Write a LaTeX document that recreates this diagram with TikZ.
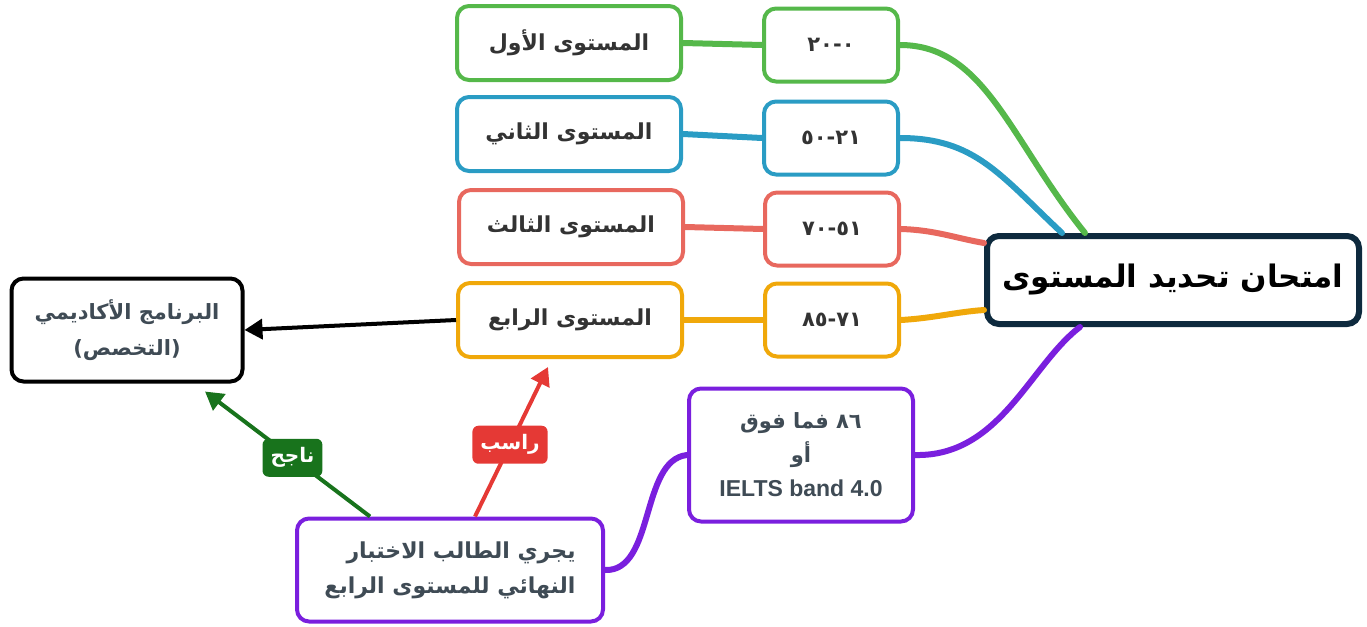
\documentclass[tikz,border=0pt]{standalone}
\usepackage{fontspec}
\usetikzlibrary{arrows.meta,calc}
\TeXXeTstate=1
\newfontfamily\arabicfont[Script=Arabic]{DejaVu Sans}
\newfontfamily\latinfont{Liberation Sans}
\newcommand\AR[1]{\beginR #1\endR}
\definecolor{cgreen}{HTML}{55B84A}
\definecolor{cblue}{HTML}{2A9CC4}
\definecolor{csalmon}{HTML}{E8685E}
\definecolor{corange}{HTML}{F0A80A}
\definecolor{cpurple}{HTML}{7A1FDE}
\definecolor{cnavy}{HTML}{0E2A3E}
\definecolor{cdkgreen}{HTML}{18731C}
\definecolor{cred}{HTML}{E53935}
\definecolor{ctext}{HTML}{333333}
\definecolor{ctextb}{HTML}{3F4B55}
\tikzset{
  box/.style={draw, line width=2pt, rounded corners=6pt, fill=white, align=center, text=ctext, font=\arabicfont\bfseries},
  lbox/.style={box, minimum width=112pt, minimum height=37pt, font=\arabicfont\bfseries\fontsize{11}{13}\selectfont},
  rbox/.style={box, minimum width=67pt, minimum height=36.5pt, font=\arabicfont\bfseries\fontsize{10.5}{13}\selectfont},
  conn/.style={line width=3pt, line cap=round},
  tag/.style={rounded corners=3pt, text=white, font=\arabicfont\bfseries\fontsize{10}{11}\selectfont, inner xsep=4pt, minimum height=19pt},
  arr/.style={line width=2pt, -{Triangle[length=9pt,width=10pt]}}
}
\begin{document}
\begin{tikzpicture}[x=0.5pt,y=-0.5pt]
\useasboundingbox (0,0) rectangle (1367,627);

% level boxes
\node[lbox, draw=cgreen]   (L1) at (569,43)  {\AR{المستوى الأول}};
\node[lbox, draw=cblue]    (L2) at (569,134) {\AR{المستوى الثاني}};
\node[lbox, draw=csalmon]  (L3) at (571,227) {\AR{المستوى الثالث}};
\node[lbox, draw=corange]  (L4) at (570,320) {\AR{المستوى الرابع}};

% score boxes
\node[rbox, draw=cgreen]   (R1) at (831,45)  {\mbox{٢٠}-\mbox{٠}};
\node[rbox, draw=cblue]    (R2) at (831,138) {\mbox{٥٠}-\mbox{٢١}};
\node[rbox, draw=csalmon]  (R3) at (832,229) {\mbox{٧٠}-\mbox{٥١}};
\node[rbox, draw=corange]  (R4) at (832,320) {\mbox{٨٥}-\mbox{٧١}};

% main
\node[box, draw=cnavy, line width=3pt, minimum width=186pt, minimum height=44pt, text=black,
      font=\arabicfont\bfseries\fontsize{15.5}{18}\selectfont] (main) at (1173,280) {\AR{امتحان تحديد المستوى}};

% academic program
\node[box, draw=black, minimum width=115.5pt, minimum height=51.5pt, text=ctextb,
      font=\arabicfont\bfseries\fontsize{10.5}{18}\selectfont] (acad) at (127,330)
      {\AR{البرنامج الأكاديمي}\\)\AR{التخصص}(};

% IELTS
\node[box, draw=cpurple, minimum width=112pt, minimum height=66.5pt, text=ctextb,
      font=\arabicfont\bfseries\fontsize{10.5}{17}\selectfont] (ielts) at (801,455)
      {\AR{٨٦ فما فوق}\\\AR{أو}\\{\latinfont\bfseries\fontsize{11.5}{17}\selectfont IELTS band 4.0}};

% final test
\node[box, draw=cpurple, minimum width=153pt, minimum height=51.5pt, text=ctextb, align=right,
      font=\arabicfont\bfseries\fontsize{11}{17.5}\selectfont] (final) at (450,570)
      {\AR{يجري الطالب الاختبار}\\\AR{النهائي للمستوى الرابع}};

% connectors
\draw[conn, cgreen] (L1.east) -- (R1.west);
\draw[conn, cblue] (L2.east) -- (R2.west);
\draw[conn, csalmon] (L3.east) -- (R3.west);
\draw[conn, corange] (L4.east) -- (R4.west);

\draw[conn, cgreen] (R1.east) .. controls (985,45) and (1010,140) .. ($(main.north west)+(101,0)$);
\draw[conn, cblue] (R2.east) .. controls (975,138) and (1000,175) .. ($(main.north west)+(78,0)$);
\draw[conn, csalmon] (R3.east) .. controls (935,230) and (955,238) .. ($(main.west)+(0,-37)$);
\draw[conn, corange] (R4.east) .. controls (935,318) and (955,312) .. ($(main.west)+(0,30)$);
\draw[conn, cpurple] (ielts.east) .. controls (1000,457) and (1030,365) .. ($(main.south west)+(96,0)$);
\draw[conn, cpurple] (final.east) .. controls (655,572) and (640,460) .. (ielts.west);

% arrows
\draw[arr, black] (L4.west) -- (acad.east);
\draw[arr, cdkgreen] ($(final.north west)+(75,0)$) -- node[tag, fill=cdkgreen, pos=0.47] (pass) {\AR{ناجح}} ($(acad.south)+(78,8)$);
\draw[arr, cred] ($(final.north west)+(180,0)$) -- node[tag, fill=cred, pos=0.48] (fail) {\AR{راسب}} ($(L4.south)+(-22,8)$);
\end{tikzpicture}
\end{document}
